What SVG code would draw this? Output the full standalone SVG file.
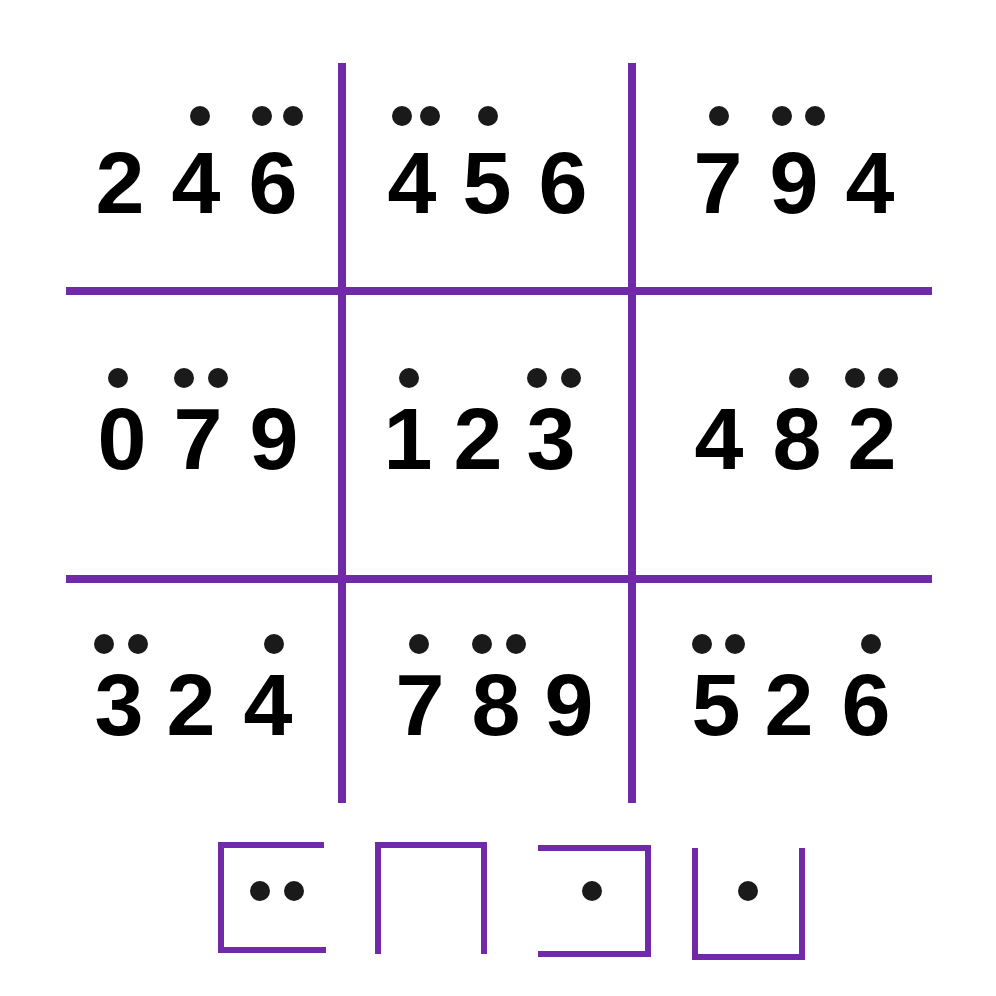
<svg xmlns="http://www.w3.org/2000/svg" width="996" height="996" viewBox="0 0 996 996">
<style>
.g{stroke:#7029A8;stroke-width:8;fill:none}
.b{stroke:#7029A8;stroke-width:6;fill:none}
.d{font-family:"Liberation Sans",Arial,sans-serif;font-weight:bold;font-size:88px;fill:#000;text-anchor:middle}
.p{fill:#1a1a1a}
</style>
<rect width="996" height="996" fill="#fff"/>
<g id="grid">
<line class="g" x1="342" y1="63" x2="342" y2="803"/>
<line class="g" x1="632" y1="63" x2="632" y2="803"/>
<line class="g" x1="66" y1="291" x2="932" y2="291"/>
<line class="g" x1="66" y1="579" x2="932" y2="579"/>
</g>
<g id="c11">
<text class="d" x="120" y="213">2</text><text class="d" x="196" y="213">4</text><text class="d" x="273" y="213">6</text>
<circle class="p" cx="200" cy="116" r="10"/><circle class="p" cx="262" cy="116" r="10"/><circle class="p" cx="293" cy="116" r="10"/>
</g>
<g id="c12">
<text class="d" x="412" y="213">4</text><text class="d" x="487" y="213">5</text><text class="d" x="563" y="213">6</text>
<circle class="p" cx="402" cy="116" r="10"/><circle class="p" cx="430" cy="116" r="10"/><circle class="p" cx="488" cy="116" r="10"/>
</g>
<g id="c13">
<text class="d" x="718" y="213">7</text><text class="d" x="794" y="213">9</text><text class="d" x="870" y="213">4</text>
<circle class="p" cx="719" cy="116" r="10"/><circle class="p" cx="782" cy="116" r="10"/><circle class="p" cx="815" cy="116" r="10"/>
</g>
<g id="c21">
<text class="d" x="122" y="469">0</text><text class="d" x="198" y="469">7</text><text class="d" x="274" y="469">9</text>
<circle class="p" cx="118" cy="378" r="10"/><circle class="p" cx="184" cy="378" r="10"/><circle class="p" cx="218" cy="378" r="10"/>
</g>
<g id="c22">
<text class="d" x="408" y="469">1</text><text class="d" x="478" y="469">2</text><text class="d" x="551" y="469">3</text>
<circle class="p" cx="409" cy="378" r="10"/><circle class="p" cx="537" cy="378" r="10"/><circle class="p" cx="571" cy="378" r="10"/>
</g>
<g id="c23">
<text class="d" x="719" y="469">4</text><text class="d" x="797" y="469">8</text><text class="d" x="872" y="469">2</text>
<circle class="p" cx="799" cy="378" r="10"/><circle class="p" cx="855" cy="378" r="10"/><circle class="p" cx="888" cy="378" r="10"/>
</g>
<g id="c31">
<text class="d" x="119" y="735">3</text><text class="d" x="191" y="735">2</text><text class="d" x="268" y="735">4</text>
<circle class="p" cx="104" cy="644" r="10"/><circle class="p" cx="138" cy="644" r="10"/><circle class="p" cx="274" cy="644" r="10"/>
</g>
<g id="c32">
<text class="d" x="420" y="735">7</text><text class="d" x="496" y="735">8</text><text class="d" x="569" y="735">9</text>
<circle class="p" cx="419" cy="644" r="10"/><circle class="p" cx="482" cy="644" r="10"/><circle class="p" cx="516" cy="644" r="10"/>
</g>
<g id="c33">
<text class="d" x="716" y="735">5</text><text class="d" x="789" y="735">2</text><text class="d" x="866" y="735">6</text>
<circle class="p" cx="702" cy="644" r="10"/><circle class="p" cx="735" cy="644" r="10"/><circle class="p" cx="871" cy="644" r="10"/>
</g>
<g id="key1">
<polyline class="b" points="324,845 221,845 221,950 326,950"/>
<circle class="p" cx="260" cy="891" r="10"/><circle class="p" cx="294" cy="891" r="10"/>
</g>
<g id="key2">
<polyline class="b" points="378,954 378,845 484,845 484,954"/>
</g>
<g id="key3">
<polyline class="b" points="538,848 648,848 648,954 538,954"/>
<circle class="p" cx="592" cy="891" r="10"/>
</g>
<g id="key4">
<polyline class="b" points="695,848 695,957 802,957 802,848"/>
<circle class="p" cx="748" cy="891" r="10"/>
</g>
</svg>
